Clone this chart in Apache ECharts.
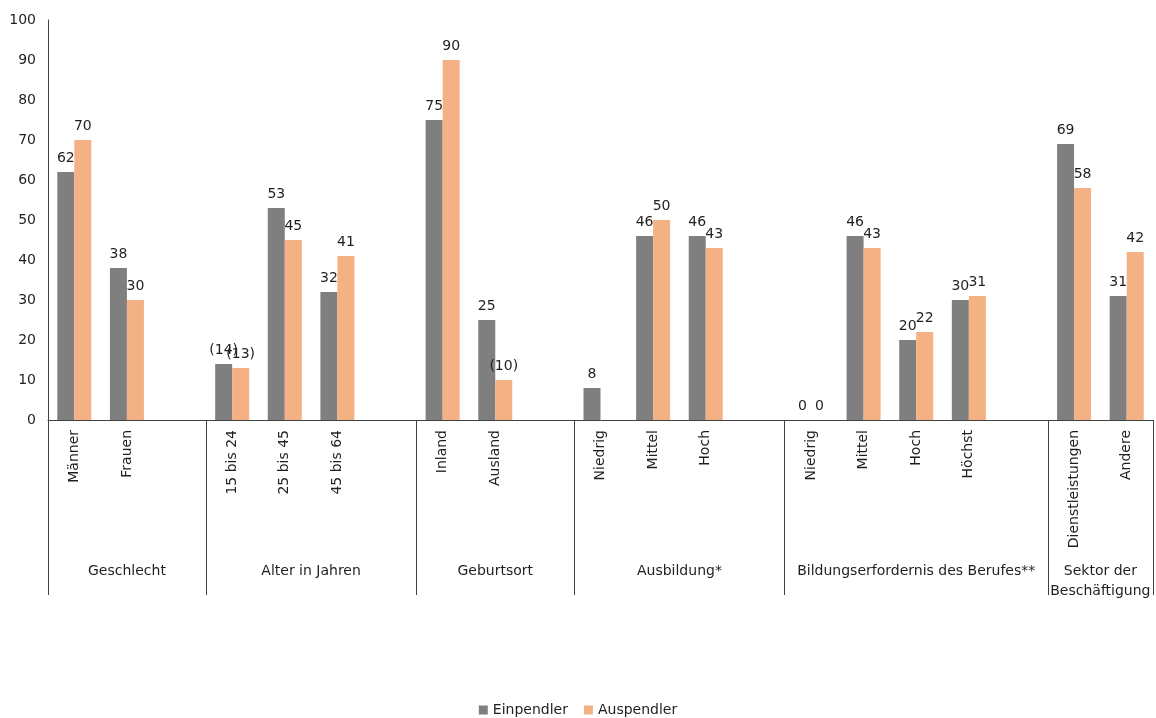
<!DOCTYPE html>
<html>
<head>
<meta charset="utf-8">
<script src="https://cdn.jsdelivr.net/npm/echarts@6/dist/echarts.min.js"></script>
<style>
  html, body { margin: 0; padding: 0; background: #fff; }
  #chart { width: 1156px; height: 718px; }
</style>
</head>
<body>
<div id="chart"></div>
<script>
// Categories (empty strings are spacer slots between groups)
const categories = [
  'Männer', 'Frauen', '',
  '15 bis 24', '25 bis 45', '45 bis 64', '',
  'Inland', 'Ausland', '',
  'Niedrig', 'Mittel', 'Hoch', '',
  'Niedrig', 'Mittel', 'Hoch', 'Höchst', '',
  'Dienstleistungen', 'Andere'
];

// Group headings with the first/last category index they span
const groupNames = ['Geschlecht', 'Alter in Jahren', 'Geburtsort', 'Ausbildung*',
  'Bildungserfordernis des Berufes**', 'Sektor der\nBeschäftigung'];
const groupStart = [0, 3, 7, 10, 14, 19];
const groupEnd = [3, 7, 10, 14, 19, 21];

// Shares in percent
const einpendler = [62, 38, null, 14, 53, 32, null, 75, 25, null, 8, 46, 46, null, 0, 46, 20, 30, null, 69, 31];
const auspendler = [70, 30, null, 13, 45, 41, null, 90, 10, null, null, 50, 43, null, 0, 43, 22, 31, null, 58, 42];

// Values based on small samples, shown in brackets
const einBracketed = [3];
const ausBracketed = [3, 8];

const yTicks = { min: 0, max: 100, interval: 10 };

const FONT = 'DejaVu Sans';
const TEXT = '#1f1f1f';
const LINE = '#404040';

// Secondary axis in half-category steps: group headings sit at group centres,
// separators at group boundaries.
const halfCount = categories.length * 2 + 1;
const halfLabels = new Array(halfCount).fill('');
const boundarySet = new Set();
groupNames.forEach((g, i) => {
  halfLabels[groupStart[i] + groupEnd[i]] = g;
  boundarySet.add(groupStart[i] * 2);
  boundarySet.add(groupEnd[i] * 2);
});

function labelFor(bracketed) {
  return p => {
    if (p.value == null) return '';
    return bracketed.includes(p.dataIndex) ? '(' + p.value + ')' : String(p.value);
  };
}

const chart = echarts.init(document.getElementById('chart'), null, { renderer: 'canvas' });
chart.setOption({
  animation: false,
  textStyle: { fontFamily: FONT },
  grid: { left: 48, right: 0, top: 20, bottom: 298, containLabel: false },
  legend: {
    top: 698,
    left: 'center',
    itemWidth: 9,
    itemHeight: 9,
    itemGap: 16,
    icon: 'rect',
    textStyle: { fontFamily: FONT, fontSize: 14, color: TEXT },
    data: ['Einpendler', 'Auspendler']
  },
  xAxis: [
    {
      type: 'category',
      data: categories,
      position: 'bottom',
      axisLine: { show: true, lineStyle: { color: LINE, width: 1 } },
      axisTick: { show: false },
      axisLabel: {
        rotate: 90,
        interval: 0,
        margin: 10,
        fontFamily: FONT,
        fontSize: 14,
        color: TEXT
      }
    },
    {
      type: 'category',
      data: halfLabels,
      boundaryGap: false,
      position: 'bottom',
      axisLine: { show: false },
      axisTick: {
        show: true,
        length: 175,
        inside: false,
        interval: (idx) => boundarySet.has(idx),
        lineStyle: { color: LINE, width: 1 }
      },
      axisLabel: {
        interval: 0,
        margin: 141,
        fontFamily: FONT,
        fontSize: 14,
        color: TEXT,
        lineHeight: 20,
        align: 'center'
      }
    }
  ],
  yAxis: {
    type: 'value',
    min: yTicks.min,
    max: yTicks.max,
    interval: yTicks.interval,
    axisLine: { show: true, lineStyle: { color: LINE, width: 1 } },
    axisTick: { show: false },
    splitLine: { show: false },
    axisLabel: { margin: 12, fontFamily: FONT, fontSize: 14, color: TEXT }
  },
  series: [
    {
      name: 'Einpendler',
      type: 'bar',
      data: einpendler,
      barWidth: 17,
      barGap: '0%',
      itemStyle: { color: '#7F7F7F' },
      label: {
        show: true,
        position: 'top',
        distance: 7,
        fontFamily: FONT,
        fontSize: 14,
        color: TEXT,
        formatter: labelFor(einBracketed)
      }
    },
    {
      name: 'Auspendler',
      type: 'bar',
      data: auspendler,
      barWidth: 17,
      barGap: '0%',
      itemStyle: { color: '#F4B183' },
      label: {
        show: true,
        position: 'top',
        distance: 7,
        fontFamily: FONT,
        fontSize: 14,
        color: TEXT,
        formatter: labelFor(ausBracketed)
      }
    }
  ]
});
</script>
</body>
</html>
